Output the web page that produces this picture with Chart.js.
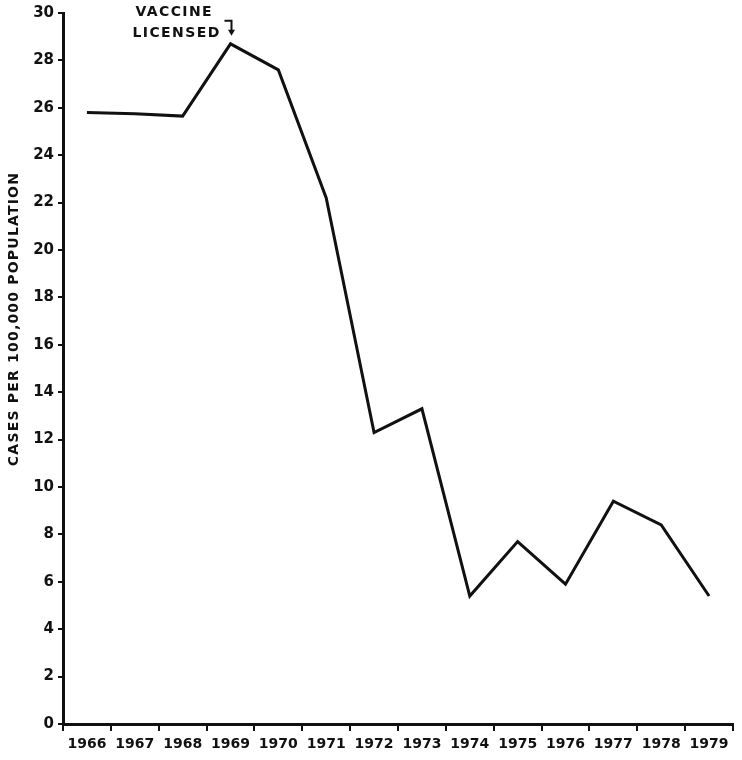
<!DOCTYPE html>
<html>
<head>
<meta charset="utf-8">
<script src="https://cdn.jsdelivr.net/npm/chart.js@4.4.0/dist/chart.umd.min.js"></script>
<style>
  body { margin: 0; background: #fff; }
  #wrap { width: 742px; height: 760px; }
</style>
</head>
<body>
<div id="wrap"><canvas id="chart" width="742" height="760"></canvas></div>
<script>
// data
const years = ['1966', '1967', '1968', '1969', '1970', '1971', '1972',
               '1973', '1974', '1975', '1976', '1977', '1978', '1979'];
const rates = [25.8, 25.75, 25.65, 28.7, 27.6, 22.2, 12.3,
               13.3, 5.4, 7.7, 5.9, 9.4, 8.4, 5.4];
const yMin = 0;
const yMax = 30;
const yStep = 2;
const yTitle = 'CASES PER 100,000 POPULATION';
const noteLines = ['VACCINE', 'LICENSED'];
const noteIndex = years.indexOf('1969');

const ink = '#111';

// y title sits above the middle of the axis in the original, so draw it by hand
const yTitlePlugin = {
    id: 'yTitle',
    afterDraw(chart) {
        const ctx = chart.ctx;
        ctx.save();
        ctx.translate(14, 319);
        ctx.rotate(-Math.PI / 2);
        ctx.font = 'bold 14px "DejaVu Sans"';
        ctx.letterSpacing = '1.2px';
        ctx.fillStyle = ink;
        ctx.textAlign = 'center';
        ctx.textBaseline = 'middle';
        ctx.fillText(yTitle, 0, 0);
        ctx.restore();
    }
};

// "VACCINE LICENSED" note with the bent arrow to the 1969 peak
const notePlugin = {
    id: 'note',
    afterDatasetsDraw(chart) {
        const ctx = chart.ctx;
        const px = chart.scales.x.getPixelForValue(noteIndex);
        const py = chart.scales.y.getPixelForValue(rates[noteIndex]);
        ctx.save();
        ctx.font = 'bold 14px "DejaVu Sans"';
        ctx.letterSpacing = '1.4px';
        ctx.fillStyle = ink;
        ctx.textBaseline = 'alphabetic';
        ctx.fillText(noteLines[0], px - 95, py - 28);
        ctx.fillText(noteLines[1], px - 98, py - 7);

        ctx.strokeStyle = ink;
        ctx.lineWidth = 2;
        ctx.beginPath();
        ctx.moveTo(px - 6, py - 23);
        ctx.lineTo(px + 1, py - 23);
        ctx.lineTo(px + 1, py - 12);
        ctx.stroke();
        ctx.beginPath();
        ctx.moveTo(px - 2.5, py - 14);
        ctx.lineTo(px + 4.5, py - 14);
        ctx.lineTo(px + 1, py - 8);
        ctx.closePath();
        ctx.fill();
        ctx.restore();
    }
};

new Chart(document.getElementById('chart'), {
    type: 'line',
    data: {
        labels: years,
        datasets: [{
            data: rates,
            borderColor: ink,
            borderWidth: 3,
            pointRadius: 0,
            tension: 0,
            fill: false
        }]
    },
    options: {
        responsive: false,
        animation: false,
        layout: { padding: { top: 12, right: 9, left: 0, bottom: 0 } },
        plugins: {
            legend: { display: false },
            tooltip: { enabled: false }
        },
        scales: {
            x: {
                offset: true,
                grid: {
                    offset: true,
                    drawOnChartArea: false,
                    drawTicks: true,
                    tickLength: 7,
                    color: ink,
                    lineWidth: 2
                },
                border: { color: ink, width: 3 },
                ticks: {
                    color: ink,
                    font: { family: 'DejaVu Sans', weight: 'bold', size: 14 },
                    padding: 5,
                    maxRotation: 0,
                    autoSkip: false
                },
                afterFit(scale) { scale.height = 36; }
            },
            y: {
                min: yMin,
                max: yMax,
                grid: {
                    drawOnChartArea: false,
                    drawTicks: true,
                    tickLength: 5,
                    color: ink,
                    lineWidth: 2
                },
                border: { color: ink, width: 3 },
                ticks: {
                    stepSize: yStep,
                    color: ink,
                    font: { family: 'DejaVu Sans', weight: 'bold', size: 15 },
                    padding: 4
                },
                afterFit(scale) { scale.width = 63; }
            }
        }
    },
    plugins: [yTitlePlugin, notePlugin]
});
</script>
</body>
</html>
